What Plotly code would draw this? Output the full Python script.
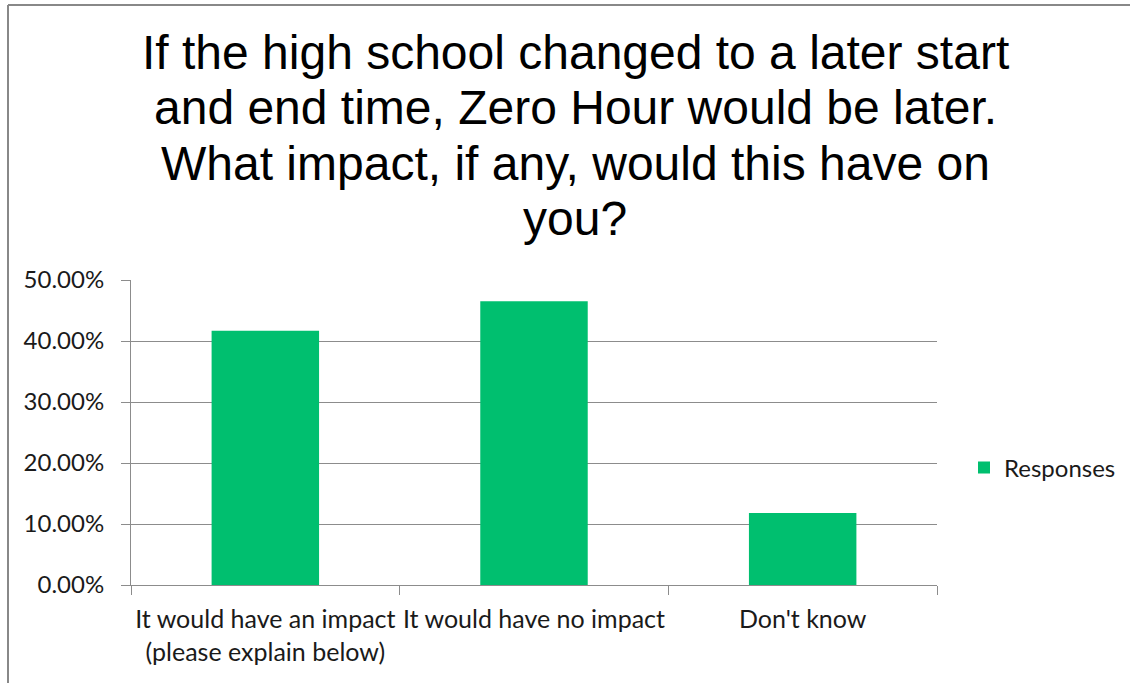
import plotly.graph_objects as go

W, H = 1130, 683
L, R, T, B = 131, 193, 280, 98

categories = ["It would have an impact<br>(please explain below)",
              "It would have no impact",
              "Don't know"]
responses = [0.4167, 0.4653, 0.1181]
series_name = "Responses"
title_lines = ["If the high school changed to a later start",
               "and end time, Zero Hour would be later.",
               "What impact, if any, would this have on",
               "you?"]

PW = W - L - R
PH = H - T - B


def px_x(px):
    return (px - L) / PW


def px_y(py):
    return (H - B - py) / PH


BAR = "#00BF6F"
GRID = "#8C8C8C"
FONT = "Lato"
TXT = "#1a1a1a"

fig = go.Figure()
fig.add_trace(go.Bar(x=categories, y=responses, name=series_name,
                     marker=dict(color=BAR, line=dict(width=0)),
                     showlegend=True))

annotations = []
for i, line in enumerate(title_lines):
    annotations.append(dict(
        text=line, xref="paper", yref="paper",
        x=px_x(575), y=px_y(53 + 55 * i),
        xanchor="center", yanchor="middle", showarrow=False,
        font=dict(family="Liberation Sans, Arial", size=48, color="#000000")))

shapes = [
    dict(type="line", xref="paper", yref="paper",
         x0=px_x(8), x1=px_x(8), y0=px_y(5), y1=px_y(H + 5),
         line=dict(color="#888888", width=2)),
    dict(type="line", xref="paper", yref="paper",
         x0=px_x(8), x1=px_x(W + 5), y0=px_y(5), y1=px_y(5),
         line=dict(color="#888888", width=2)),
]

fig.update_layout(
    width=W, height=H,
    margin=dict(l=L, r=R, t=T, b=B, autoexpand=False),
    paper_bgcolor="white", plot_bgcolor="white",
    bargap=0.6,
    annotations=annotations,
    shapes=shapes,
    font=dict(family=FONT, size=24, color=TXT),
    legend=dict(x=px_x(964), y=px_y(468), xanchor="left", yanchor="middle",
                font=dict(family=FONT, size=24, color=TXT),
                bgcolor="rgba(0,0,0,0)"),
    xaxis=dict(type="category", showline=True, linecolor=GRID, linewidth=1,
               ticks="outside", ticklen=9, tickcolor=GRID, tickson="boundaries",
               showgrid=False, ticklabelstandoff=12, tickangle=0,
               tickfont=dict(family=FONT, size=25, color=TXT)),
    yaxis=dict(range=[0, 0.5], dtick=0.1, tickformat=".2%",
               showline=True, linecolor=GRID, linewidth=1,
               ticks="outside", ticklen=9, tickcolor=GRID,
               showgrid=True, gridcolor=GRID, gridwidth=1,
               zeroline=False, ticklabelstandoff=12,
               tickfont=dict(family=FONT, size=24, color=TXT)),
)

fig.write_html("out.html",
               config={"displayModeBar": False},
               post_script="document.body.style.margin='0';document.body.style.overflow='hidden';")
